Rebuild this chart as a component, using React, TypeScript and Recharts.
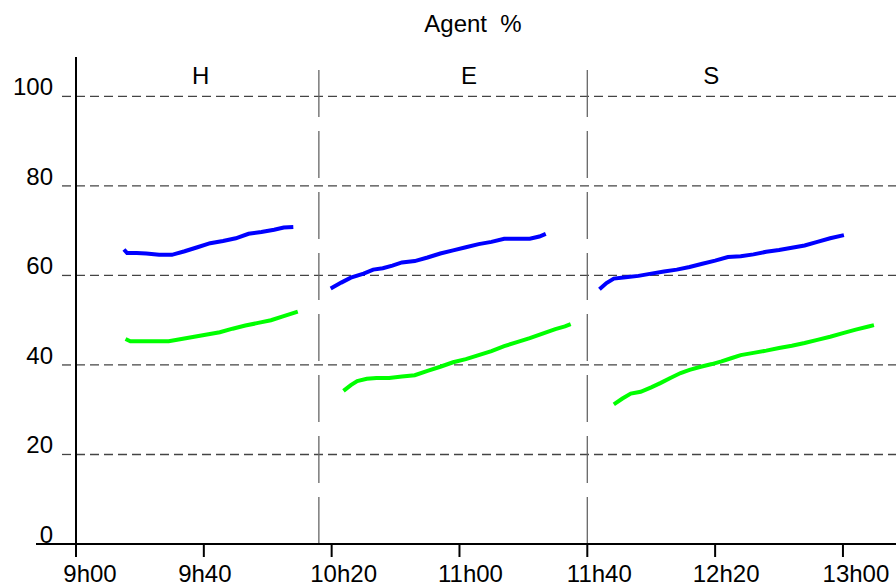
import { LineChart, Line, XAxis, YAxis, ReferenceLine, ReferenceDot } from 'recharts';

// minutes after 9h00
const X_TICKS = [0, 40, 80, 120, 160, 200, 240];
const X_LABELS = ['9h00', '9h40', '10h20', '11h00', '11h40', '12h20', '13h00'];
const Y_TICKS = [0, 20, 40, 60, 80, 100];

const SECTIONS = ['H', 'E', 'S'];
const SECTION_CENTERS = [39, 123, 198.8];
const SEPARATORS = [76, 160];

const H_BLUE_T = [15, 16, 19, 22, 26, 30, 34, 38, 42, 46, 50, 54, 58, 62, 65, 68];
const H_BLUE = [65.8, 65.0, 65.0, 64.9, 64.6, 64.6, 65.4, 66.3, 67.2, 67.7, 68.3, 69.3, 69.7, 70.2, 70.7, 70.8];
const H_GREEN_T = [15.5, 17, 21, 25, 29, 33, 37, 41, 45, 49, 53, 57, 61, 65, 69.4];
const H_GREEN = [45.8, 45.3, 45.3, 45.3, 45.3, 45.8, 46.3, 46.8, 47.3, 48.1, 48.8, 49.4, 50.0, 50.9, 51.9];

const E_BLUE_T = [79.7, 83, 86, 90, 93, 96, 99, 102, 106, 110, 114, 118, 122, 126, 130, 134, 138, 142, 145, 147];
const E_BLUE = [57.1, 58.4, 59.5, 60.4, 61.3, 61.6, 62.2, 62.9, 63.2, 64.0, 64.9, 65.6, 66.3, 67.0, 67.5, 68.2, 68.2, 68.2, 68.7, 69.3];
const E_GREEN_T = [83.7, 86, 88, 91, 94, 98, 102, 106, 110, 114, 118, 122, 126, 130, 134, 138, 142, 146, 150, 153, 154.8];
const E_GREEN = [34.2, 35.5, 36.4, 36.9, 37.1, 37.1, 37.4, 37.7, 38.7, 39.6, 40.6, 41.3, 42.2, 43.1, 44.2, 45.1, 46.0, 47.0, 48.0, 48.6, 49.1];

const S_BLUE_T = [163.8, 166, 168.3, 172, 176, 180, 184, 188, 192, 196, 200, 204, 208, 212, 216, 220, 224, 228, 232, 236, 240.3];
const S_BLUE = [56.9, 58.3, 59.3, 59.6, 59.9, 60.4, 60.9, 61.3, 61.9, 62.6, 63.3, 64.1, 64.3, 64.7, 65.3, 65.7, 66.2, 66.7, 67.5, 68.3, 69.0];
const S_GREEN_T = [168.3, 171, 173.6, 176.7, 180, 183, 186, 189.2, 192, 195.5, 199, 202, 205, 208, 212, 216, 220, 224, 228, 232, 236, 240, 244, 248, 249.7];
const S_GREEN = [31.2, 32.5, 33.6, 34.0, 35.0, 36.0, 37.1, 38.2, 38.9, 39.6, 40.2, 40.8, 41.5, 42.2, 42.7, 43.2, 43.8, 44.3, 44.9, 45.6, 46.3, 47.1, 47.9, 48.6, 48.9];

const zip = (t: number[], v: number[]) => t.map((x, i) => ({ t: x, v: v[i] }));

const SERIES = [
  { id: 'hb', data: zip(H_BLUE_T, H_BLUE), color: '#0000ff' },
  { id: 'hg', data: zip(H_GREEN_T, H_GREEN), color: '#00ff00' },
  { id: 'eb', data: zip(E_BLUE_T, E_BLUE), color: '#0000ff' },
  { id: 'eg', data: zip(E_GREEN_T, E_GREEN), color: '#00ff00' },
  { id: 'sb', data: zip(S_BLUE_T, S_BLUE), color: '#0000ff' },
  { id: 'sg', data: zip(S_GREEN_T, S_GREEN), color: '#00ff00' },
];

const FONT = '"Liberation Sans", Arial, sans-serif';
const GRID = '#444';
// the source plot nudges its time labels off-centre
const X_LABEL_SHIFT = [14, 1, 12, 11, 12, 11, 13];

const YTick = (props: any) => {
  const { x, y, payload } = props;
  const isZero = payload.value === 0;
  return (
    <g>
      {isZero ? (
        <line x1={x - 40} y1={y} x2={x} y2={y} stroke="#000" strokeWidth={2} />
      ) : (
        <line x1={x - 14} y1={y} x2={x} y2={y} stroke={GRID} strokeWidth={1.3} strokeDasharray="9 5" />
      )}
      <text x={x - 23} y={y - 1} textAnchor="end" fontSize={24} fontFamily={FONT} fill="#000">
        {payload.value}
      </text>
    </g>
  );
};

const XTick = (props: any) => {
  const { x, y, payload } = props;
  const i = X_TICKS.indexOf(payload.value);
  return (
    <text x={x + (X_LABEL_SHIFT[i] ?? 0)} y={y} dy="0.71em" textAnchor="middle" fontSize={24} fontFamily={FONT} fill="#000">
      {X_LABELS[i] ?? ''}
    </text>
  );
};

export default function App() {
  return (
    <div style={{ position: 'absolute', left: 0, top: 0, width: 896, height: 587, background: '#fff' }}>
      <div
        style={{
          position: 'absolute',
          left: 373,
          top: 12,
          width: 200,
          textAlign: 'center',
          fontFamily: FONT,
          fontSize: 24,
          lineHeight: '24px',
          whiteSpace: 'pre',
          color: '#000',
        }}
      >
        {'Agent  %'}
      </div>
      <LineChart width={896} height={587} margin={{ top: 57, right: 0, bottom: 0, left: 0 }}>
        <XAxis
          type="number"
          dataKey="t"
          domain={[0, 256.6]}
          ticks={X_TICKS}
          allowDataOverflow
          height={43}
          stroke="#000"
          strokeWidth={2}
          tickSize={13}
          tickMargin={8}
          tick={<XTick />}
          interval={0}
        />
        <YAxis
          type="number"
          domain={[0, 108.8]}
          ticks={Y_TICKS}
          allowDataOverflow
          width={76}
          stroke="#000"
          strokeWidth={2}
          tickLine={false}
          tickSize={0}
          tickMargin={0}
          tick={<YTick />}
          interval={0}
        />
        {Y_TICKS.filter((v) => v > 0).map((v) => (
          <ReferenceLine key={`g${v}`} y={v} stroke={GRID} strokeWidth={1.3} strokeDasharray="9 5" />
        ))}
        {SEPARATORS.map((s) => (
          <ReferenceLine key={s} x={s} stroke="#666" strokeWidth={1.3} strokeDasharray="47 14" />
        ))}
        {SECTIONS.map((name, i) => (
          <ReferenceDot
            key={name}
            x={SECTION_CENTERS[i]}
            y={104.75}
            r={0}
            fill="none"
            stroke="none"
            label={{ value: name, position: 'center', fontSize: 24, fill: '#000', fontFamily: FONT }}
          />
        ))}
        {SERIES.map((s) => (
          <Line
            key={s.id}
            data={s.data}
            dataKey="v"
            type="linear"
            stroke={s.color}
            strokeWidth={4}
            dot={false}
            activeDot={false}
            isAnimationActive={false}
          />
        ))}
      </LineChart>
    </div>
  );
}
